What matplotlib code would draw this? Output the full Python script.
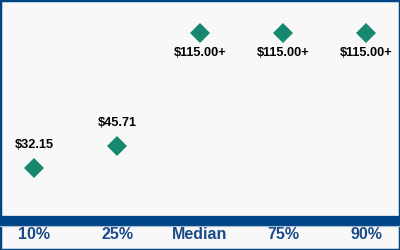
import matplotlib
matplotlib.use("Agg")
import matplotlib.pyplot as plt
from matplotlib.lines import Line2D
from matplotlib.patches import Rectangle

categories = ["10%", "25%", "Median", "75%", "90%"]
values = [32.15, 45.71, 115.00, 115.00, 115.00]
labels = ["$32.15", "$45.71", "$115.00+", "$115.00+", "$115.00+"]
label_above = [True, True, False, False, False]

NAVY = "#004687"
TEAL = "#17876f"

plt.rcParams["font.family"] = ["Liberation Sans", "DejaVu Sans"]

fig = plt.figure(figsize=(4, 2.5), dpi=100)
fig.patch.set_facecolor("#f8f8f8")
ax = fig.add_axes([0, 29 / 250, 1, 221 / 250])
ax.set_facecolor("#f8f8f8")

x = list(range(len(categories)))
ax.plot(x, values, linestyle="none", marker="D", markersize=10,
        color=TEAL, markeredgewidth=0)

for xi, v, lab, above in zip(x, values, labels, label_above):
    dy = 16.5 if above else -14.5
    ax.annotate(lab, (xi, v), xytext=(0, dy), textcoords="offset points",
                ha="center", va="center", fontsize=9.2, fontweight="bold",
                color="black")

ax.set_xlim(-0.41, 4.41)
ax.set_ylim(0, 135)
ax.set_yticks([])
ax.set_xticks(x)
ax.set_xticklabels(categories, fontsize=11.5, fontweight="bold", color="#1a4a8a")
ax.tick_params(axis="x", length=0, pad=4.5)
for side in ["top", "left", "right"]:
    ax.spines[side].set_visible(False)
ax.spines["bottom"].set_color(NAVY)
ax.spines["bottom"].set_linewidth(7.4)

# thin light line under the axis band
fig.add_artist(Line2D([0, 1], [24 / 250, 24 / 250], color="#a9bcd0",
                      linewidth=0.8, transform=fig.transFigure))
# frame around the figure
fig.add_artist(Rectangle((0, 0), 1, 1, transform=fig.transFigure,
                         fill=False, edgecolor=NAVY, linewidth=2.5))

fig.savefig("out.png", dpi=100, facecolor=fig.get_facecolor())
